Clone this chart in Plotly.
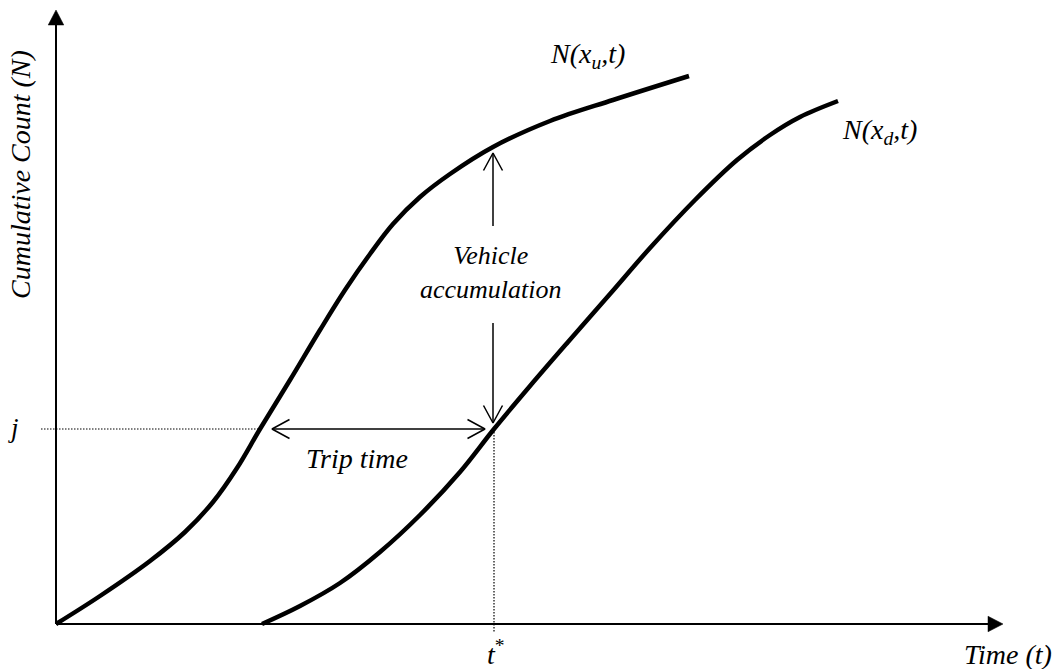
import numpy as np
import plotly.graph_objects as go

# ---- data (time units / vehicle-count units) ----
t_up = [0, 4.4, 9.4, 12.9, 15.7, 18.1, 20.4, 23.4, 26.4, 28.9, 31.4, 33.7, 36.4, 39.4, 43.7, 49.4, 55.7, 63.3]
n_up = [0, 2.8, 6.3, 9.2, 12.2, 15.6, 19.5, 24.4, 29.4, 33.4, 37.0, 40.0, 42.7, 45.0, 47.7, 50.3, 52.4, 54.8]

t_down = [20.6, 24.4, 28.4, 32.4, 36.4, 40.4, 43.8, 47.4, 51.2, 55.4, 59.4, 63.9, 68.1, 71.4, 74.4, 78.2]
n_down = [0, 1.8, 4.1, 7.2, 10.9, 15.2, 19.5, 23.8, 28.2, 33.0, 37.6, 42.4, 46.4, 48.9, 50.7, 52.3]

j_level = 19.5      # cumulative count j
t_star = 43.8       # time t*
t_up_at_j = 20.4    # time upstream curve reaches j
n_up_at_tstar = 47.7
t_axis_max = 94.7
n_axis_max = 61.4

FONT = "Liberation Serif"
BLACK = "black"

fig = go.Figure()

# axes with filled arrow heads
head_len, head_half = 1.5, 0.78
fig.add_trace(go.Scatter(x=[0, t_axis_max - head_len + 0.1, None, 0, 0],
                         y=[0, 0, None, 0, n_axis_max - head_len + 0.1], mode="lines",
                         line=dict(color=BLACK, width=2), hoverinfo="skip"))
fig.add_trace(go.Scatter(x=[t_axis_max, t_axis_max - head_len, t_axis_max - head_len, t_axis_max],
                         y=[0, head_half, -head_half, 0], mode="lines", fill="toself",
                         fillcolor=BLACK, line=dict(color=BLACK, width=0.5), hoverinfo="skip"))
fig.add_trace(go.Scatter(x=[0, head_half, -head_half, 0],
                         y=[n_axis_max, n_axis_max - head_len, n_axis_max - head_len, n_axis_max],
                         mode="lines", fill="toself",
                         fillcolor=BLACK, line=dict(color=BLACK, width=0.5), hoverinfo="skip"))

# curves
for tx, ny in [(t_up, n_up), (t_down, n_down)]:
    fig.add_trace(go.Scatter(x=tx, y=ny, mode="lines",
                             line=dict(color=BLACK, width=4.5, shape="spline", smoothing=1.0),
                             hoverinfo="skip"))

# dotted guide lines
fig.add_trace(go.Scatter(x=[-1.5, t_up_at_j], y=[j_level, j_level], mode="lines",
                         line=dict(color=BLACK, width=1.2, dash="1.5px,1.5px"), hoverinfo="skip"))
fig.add_trace(go.Scatter(x=[t_star, t_star], y=[j_level, -0.9], mode="lines",
                         line=dict(color=BLACK, width=1.2, dash="1.5px,1.5px"), hoverinfo="skip"))


def chevron(tip, direction, length=1.75, half=0.95):
    d = np.array(direction, dtype=float)
    d /= np.linalg.norm(d)
    p = np.array([-d[1], d[0]])
    tip = np.array(tip, dtype=float)
    back = tip - d * length
    a = back + p * half
    b = back - p * half
    return [a[0], tip[0], b[0], None], [a[1], tip[1], b[1], None]


ax_x, ax_y = [], []
# trip time double arrow
left_tip = (t_up_at_j + 1.2, j_level)
right_tip = (t_star - 0.9, j_level)
ax_x += [left_tip[0], right_tip[0], None]
ax_y += [left_tip[1], right_tip[1], None]
for tip, d in [(left_tip, (-1, 0)), (right_tip, (1, 0))]:
    cx, cy = chevron(tip, d)
    ax_x += cx
    ax_y += cy
# vehicle accumulation arrows
x_acc = t_star - 0.1
up_tip = (x_acc, n_up_at_tstar - 0.6)
ax_x += [x_acc, x_acc, None]
ax_y += [39.8, up_tip[1], None]
cx, cy = chevron(up_tip, (0, 1))
ax_x += cx
ax_y += cy
down_tip = (x_acc, j_level + 0.6)
ax_x += [x_acc, x_acc, None]
ax_y += [30.1, down_tip[1], None]
cx, cy = chevron(down_tip, (0, -1))
ax_x += cx
ax_y += cy

fig.add_trace(go.Scatter(x=ax_x, y=ax_y, mode="lines",
                         line=dict(color=BLACK, width=1.5), hoverinfo="skip"))


def label(text, x, y, xanchor="center", angle=0, size=28):
    return dict(x=x, y=y, xref="x", yref="y", text=text, showarrow=False,
                xanchor=xanchor, yanchor="middle", textangle=angle, borderpad=0,
                font=dict(family=FONT, size=size, color=BLACK))


annotations = [
    label("<i>N(x<sub>u</sub>,t)</i>", 49.3, 56.9, xanchor="left"),
    label("<i>N(x<sub>d</sub>,t)</i>", 78.5, 49.3, xanchor="left"),
    label("<i>j</i>", -4.3, 19.6, size=27),
    label("<i>t</i><sup>*</sup>", 44.0, -2.8),
    label("<i>Time (t)</i>", 95.2, -3.0),
    label("<i>Cumulative Count (N)</i>", -3.6, 44.9, angle=-90),
    label("<i>Vehicle<br>accumulation</i>", 43.5, 35.2, size=26),
    label("<i>Trip time</i>", 30.1, 16.6),
]

fig.update_layout(
    width=1057, height=669,
    margin=dict(l=0, r=0, t=0, b=0),
    paper_bgcolor="white", plot_bgcolor="white",
    showlegend=False,
    xaxis=dict(visible=False, range=[-5.6, 100.1], fixedrange=True),
    yaxis=dict(visible=False, range=[-4.5, 62.4], fixedrange=True),
    annotations=annotations,
)

fig.write_html("out.html", config={"displayModeBar": False},
               post_script="document.body.style.margin='0';document.body.style.overflow='hidden';")
